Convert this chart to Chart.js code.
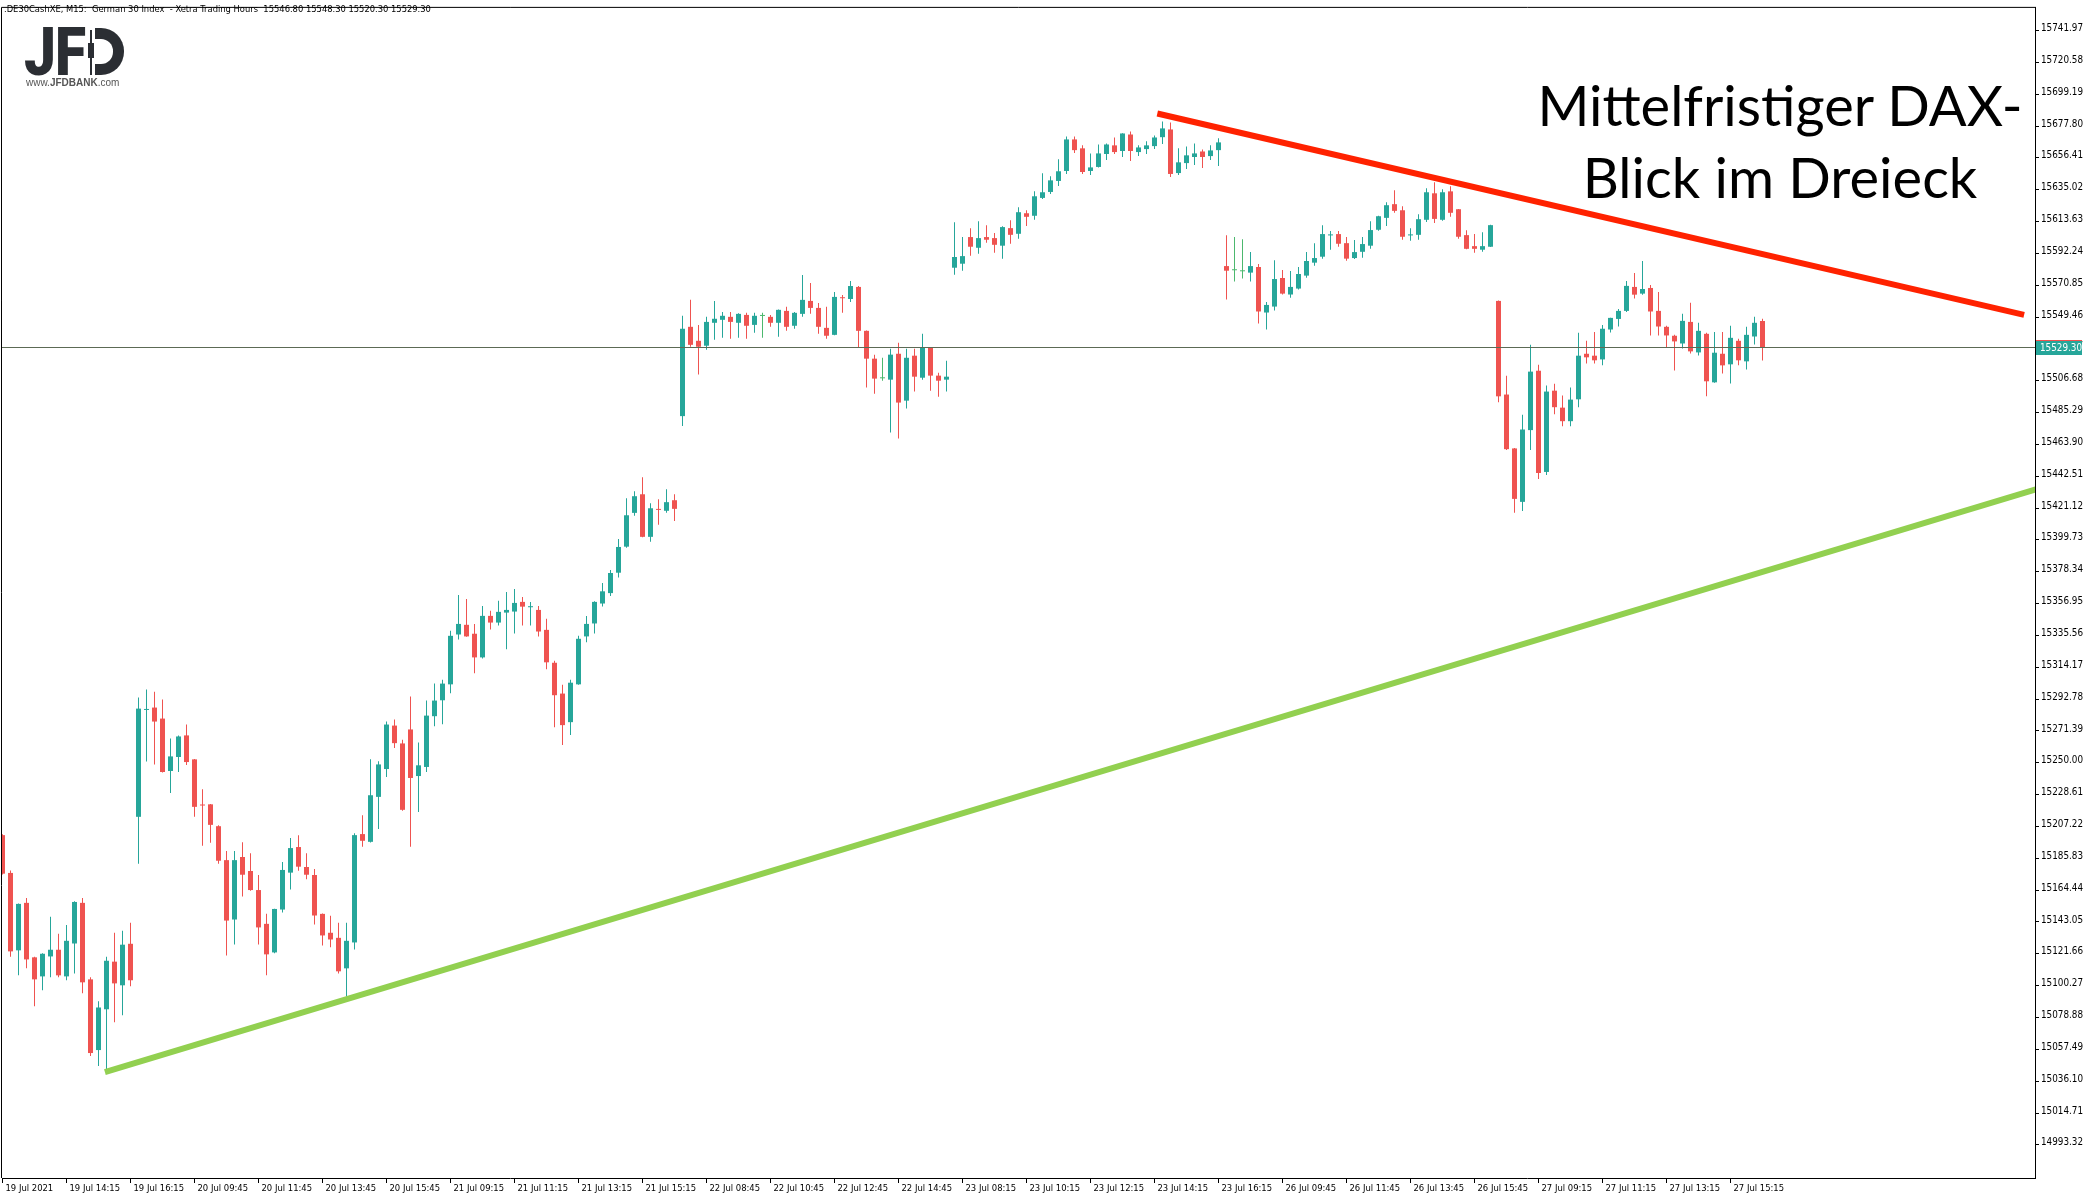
<!DOCTYPE html>
<html>
<head>
<meta charset="utf-8">
<script src="https://cdn.jsdelivr.net/npm/chart.js@4.4.0/dist/chart.umd.min.js"></script>
<style>
  html, body { margin: 0; padding: 0; background: #fff; }
  #wrap { position: relative; width: 2092px; height: 1200px; overflow: hidden; }
  #chart { position: absolute; left: 0; top: 0; }
  .hdr { position: absolute; left: 4px; top: 3px; font: 9.3px/12px "DejaVu Sans Condensed", "DejaVu Sans", sans-serif; color: #000; white-space: pre; }
  .logo { position: absolute; left: 24px; top: 20px; font: 900 66px/66px Roboto, sans-serif; color: #2b2e33; transform: scaleX(0.86); transform-origin: left top; letter-spacing: -1px; }
  .wick { position: absolute; left: 90px; top: 30px; width: 2px; height: 45px; background: #2b2e33; }
  .body { position: absolute; left: 88px; top: 43px; width: 6px; height: 15px; background: #2b2e33; }
  .dshape { position: absolute; left: 95px; top: 28px; width: 29px; height: 47px; box-sizing: border-box; border: 11px solid #2b2e33; border-left: 0; border-radius: 0 23px 23px 0; }
  .site { position: absolute; left: 26px; top: 77px; font: 10px/12px "Liberation Sans", Arial, sans-serif; color: #555; }
  .site b { font-weight: bold; }
  .title { position: absolute; left: 1480px; top: 69px; width: 600px; text-align: center; font: 56px/72px Lato, sans-serif; color: #000; }
</style>
</head>
<body>
<div id="wrap">
  <canvas id="chart" width="2092" height="1200"></canvas>
  <div class="hdr">.DE30CashXE, M15:  German 30 Index  - Xetra Trading Hours  15546.80 15548.30 15520.30 15529.30</div>
  <div class="logo">JF</div>
  <div class="wick"></div>
  <div class="body"></div>
  <div class="dshape"></div>
  <div class="site">www.<b>JFDBANK</b>.com</div>
  <div class="title">Mittelfristiger DAX-<br>Blick im Dreieck</div>
</div>
<script>
// M15 Kerzen, 19.07.2021 12:15 bis 27.07.2021 16:15
const opens = [
  15201.4, 15176.0, 15124.0, 15155.9, 15119.3, 15106.5, 15119.9, 15124.4, 15106.5, 15128.6,
  15155.9, 15104.5, 15057.0, 15084.4, 15116.4, 15100.5, 15128.4, 15213.7, 15285.5, 15287.1,
  15279.7, 15244.5, 15253.9, 15268.4, 15252.3, 15221.9, 15222.1, 15207.4, 15184.6, 15144.7,
  15186.7, 15177.3, 15164.5, 15141.8, 15122.6, 15151.4, 15176.2, 15193.4, 15180.0, 15174.6,
  15148.5, 15135.8, 15132.4, 15111.9, 15129.3, 15202.1, 15196.9, 15227.1, 15245.8, 15275.0,
  15263.0, 15272.4, 15241.1, 15247.2, 15281.3, 15292.0, 15302.7, 15336.2, 15342.7, 15336.7,
  15320.8, 15348.7, 15344.2, 15350.9, 15351.6, 15358.1, 15354.5, 15352.7, 15339.3, 15317.2,
  15296.5, 15277.3, 15302.7, 15334.9, 15343.6, 15357.0, 15364.0, 15377.7, 15395.2, 15417.9,
  15430.4, 15401.8, 15420.4, 15419.3, 15426.4, 15482.9, 15542.9, 15533.5, 15530.2, 15545.6,
  15547.6, 15549.6, 15545.6, 15550.9, 15544.2, 15550.2, 15549.6, 15545.6, 15553.6, 15543.6,
  15551.6, 15560.3, 15555.6, 15542.2, 15537.5, 15562.5, 15561.6, 15569.7, 15540.2, 15521.5,
  15508.3, 15507.4, 15524.8, 15493.3, 15523.5, 15508.7, 15528.8, 15510.1, 15507.4, 15582.6,
  15585.3, 15603.2, 15596.0, 15603.2, 15602.5, 15597.4, 15609.2, 15605.4, 15619.2, 15617.5,
  15629.5, 15633.5, 15640.9, 15647.6, 15668.8, 15662.8, 15647.6, 15650.3, 15659.0, 15664.8,
  15661.0, 15672.1, 15660.3, 15662.3, 15664.3, 15670.3, 15675.5, 15646.2, 15652.9, 15657.0,
  15660.7, 15657.6, 15661.6, 15583.7, 15580.9, 15580.2, 15579.3, 15583.1, 15552.5, 15556.5,
  15575.7, 15564.6, 15568.6, 15577.3, 15586.0, 15590.0, 15604.3, 15605.2, 15599.1, 15589.1,
  15593.3, 15597.4, 15608.1, 15616.1, 15625.3, 15621.2, 15604.3, 15604.7, 15614.8, 15632.6,
  15614.8, 15633.9, 15621.9, 15604.5, 15597.1, 15594.7, 15596.7, 15560.3, 15497.4, 15461.2,
  15425.3, 15473.5, 15513.4, 15445.4, 15500.0, 15488.6, 15479.5, 15494.2, 15524.8, 15523.5,
  15521.0, 15541.1, 15548.2, 15553.6, 15569.7, 15565.2, 15569.0, 15553.6, 15542.9, 15536.9,
  15531.7, 15546.2, 15525.7, 15538.2, 15505.6, 15524.8, 15517.7, 15533.5, 15519.7, 15536.4,
  15546.8
];
const highs = [
  15202.0, 15177.7, 15155.5, 15159.2, 15119.7, 15122.0, 15146.5, 15135.1, 15141.1, 15157.0,
  15159.2, 15105.9, 15089.8, 15119.7, 15135.8, 15137.1, 15142.5, 15293.8, 15299.2, 15297.8,
  15292.5, 15266.3, 15268.4, 15275.7, 15252.5, 15232.2, 15222.3, 15208.1, 15190.7, 15190.7,
  15196.7, 15189.3, 15174.6, 15148.5, 15152.0, 15183.3, 15199.4, 15201.4, 15189.3, 15178.6,
  15148.7, 15147.2, 15142.5, 15142.5, 15202.7, 15214.8, 15252.3, 15251.0, 15277.7, 15279.1,
  15265.4, 15294.5, 15263.7, 15291.8, 15303.2, 15305.8, 15338.7, 15362.8, 15360.1, 15343.3,
  15355.4, 15352.1, 15358.8, 15364.8, 15366.8, 15361.4, 15358.1, 15355.4, 15346.7, 15318.6,
  15302.5, 15305.8, 15335.3, 15348.7, 15358.5, 15370.8, 15379.5, 15400.3, 15427.7, 15432.4,
  15441.8, 15424.4, 15427.1, 15433.8, 15430.4, 15550.3, 15561.0, 15544.2, 15549.6, 15560.3,
  15552.9, 15552.9, 15552.0, 15552.3, 15552.3, 15552.3, 15550.9, 15554.5, 15556.3, 15552.9,
  15577.7, 15572.4, 15558.9, 15556.3, 15566.3, 15564.3, 15573.7, 15570.3, 15540.5, 15524.2,
  15522.1, 15528.2, 15532.2, 15528.2, 15528.2, 15538.2, 15529.0, 15512.1, 15520.1, 15613.2,
  15603.2, 15609.2, 15613.9, 15611.2, 15605.9, 15610.5, 15614.5, 15623.2, 15621.2, 15634.0,
  15646.0, 15644.0, 15655.4, 15670.8, 15670.8, 15664.8, 15659.4, 15665.4, 15666.1, 15670.1,
  15673.0, 15674.1, 15664.8, 15667.5, 15671.5, 15680.8, 15680.2, 15662.8, 15664.1, 15666.1,
  15662.1, 15664.8, 15669.5, 15604.5, 15603.2, 15601.8, 15593.1, 15585.1, 15559.6, 15587.7,
  15581.1, 15580.4, 15583.1, 15593.1, 15599.1, 15611.2, 15607.2, 15607.2, 15603.2, 15601.2,
  15603.2, 15613.9, 15617.5, 15626.6, 15634.6, 15623.9, 15609.2, 15618.6, 15636.0, 15640.0,
  15635.3, 15637.3, 15622.0, 15607.8, 15605.2, 15606.5, 15611.5, 15560.5, 15510.1, 15461.5,
  15483.9, 15530.8, 15517.4, 15503.4, 15504.7, 15496.7, 15502.1, 15538.9, 15533.5, 15539.5,
  15544.2, 15549.0, 15554.9, 15573.7, 15579.0, 15587.1, 15571.0, 15566.3, 15543.6, 15537.5,
  15551.6, 15559.0, 15545.6, 15538.9, 15539.5, 15539.5, 15543.6, 15534.9, 15542.9, 15549.6,
  15548.3
];
const lows = [
  15175.0, 15119.7, 15107.2, 15111.9, 15086.5, 15097.2, 15105.9, 15105.9, 15103.9, 15108.5,
  15095.2, 15053.0, 15046.3, 15042.9, 15075.7, 15080.4, 15099.8, 15182.2, 15250.9, 15248.9,
  15243.5, 15229.7, 15243.8, 15248.5, 15213.7, 15194.3, 15196.3, 15182.2, 15120.6, 15128.0,
  15160.1, 15164.0, 15128.0, 15107.2, 15122.0, 15149.4, 15164.8, 15177.5, 15171.7, 15141.3,
  15127.3, 15126.0, 15108.5, 15093.0, 15124.6, 15193.6, 15196.5, 15205.6, 15240.5, 15259.9,
  15217.7, 15193.6, 15217.0, 15243.8, 15274.6, 15275.9, 15296.7, 15332.9, 15334.7, 15310.1,
  15320.1, 15339.6, 15342.2, 15326.2, 15336.9, 15342.2, 15342.2, 15334.9, 15312.8, 15273.9,
  15261.9, 15268.6, 15302.5, 15330.9, 15336.9, 15355.0, 15362.0, 15374.4, 15394.5, 15415.9,
  15401.6, 15398.5, 15409.9, 15417.9, 15412.5, 15476.2, 15529.5, 15510.8, 15527.5, 15534.2,
  15535.5, 15534.9, 15535.5, 15534.9, 15538.9, 15535.5, 15542.9, 15536.2, 15540.2, 15541.6,
  15549.6, 15551.6, 15538.2, 15534.9, 15537.3, 15552.3, 15559.6, 15528.8, 15502.1, 15498.0,
  15506.7, 15471.9, 15467.9, 15488.0, 15499.4, 15507.4, 15500.0, 15496.0, 15499.4, 15577.9,
  15580.6, 15590.7, 15592.0, 15599.4, 15592.7, 15588.7, 15598.7, 15602.1, 15610.7, 15614.8,
  15628.8, 15632.2, 15637.5, 15645.6, 15659.6, 15645.6, 15644.9, 15650.0, 15654.9, 15659.0,
  15657.0, 15654.3, 15657.6, 15659.0, 15662.3, 15665.7, 15643.6, 15644.9, 15648.9, 15651.6,
  15649.6, 15654.9, 15650.9, 15561.2, 15573.3, 15575.3, 15573.3, 15545.1, 15541.1, 15553.8,
  15564.6, 15562.5, 15567.9, 15575.9, 15584.0, 15588.7, 15594.7, 15596.7, 15587.3, 15588.4,
  15589.3, 15595.3, 15607.4, 15610.7, 15619.5, 15601.4, 15600.7, 15601.4, 15613.4, 15612.7,
  15614.1, 15616.8, 15602.1, 15595.0, 15592.7, 15593.3, 15596.5, 15492.2, 15460.1, 15417.9,
  15419.2, 15460.1, 15440.7, 15443.3, 15484.2, 15476.1, 15476.1, 15488.9, 15518.3, 15518.3,
  15517.0, 15539.1, 15543.1, 15552.9, 15561.9, 15564.5, 15537.1, 15537.1, 15529.1, 15513.6,
  15528.4, 15525.0, 15523.7, 15496.2, 15505.4, 15511.6, 15504.9, 15517.0, 15514.3, 15531.1,
  15520.3
];
const closes = [
  15175.5, 15123.3, 15155.2, 15117.9, 15104.5, 15121.7, 15124.4, 15107.2, 15130.4, 15156.5,
  15102.5, 15055.0, 15085.6, 15117.0, 15101.8, 15127.8, 15103.9, 15286.4, 15285.8, 15277.7,
  15243.8, 15254.3, 15267.7, 15250.5, 15220.4, 15221.3, 15208.3, 15184.2, 15144.0, 15184.6,
  15174.8, 15164.5, 15139.4, 15121.3, 15151.8, 15178.0, 15192.7, 15180.2, 15174.8, 15147.4,
  15134.0, 15131.3, 15109.9, 15130.4, 15201.4, 15197.6, 15228.2, 15248.9, 15275.7, 15263.2,
  15218.4, 15239.8, 15248.3, 15281.7, 15291.8, 15303.2, 15335.3, 15343.3, 15334.9, 15320.8,
  15348.7, 15344.2, 15351.4, 15352.7, 15357.4, 15354.9, 15355.2, 15338.2, 15317.5, 15295.4,
  15275.3, 15303.8, 15333.3, 15343.3, 15358.1, 15365.2, 15377.5, 15395.0, 15416.3, 15429.1,
  15401.8, 15421.0, 15419.9, 15425.1, 15420.6, 15541.6, 15530.8, 15529.5, 15546.2, 15548.3,
  15550.3, 15546.2, 15551.6, 15543.6, 15550.3, 15550.2, 15545.6, 15554.3, 15542.9, 15552.3,
  15561.0, 15555.6, 15542.9, 15536.9, 15563.0, 15562.1, 15570.3, 15540.2, 15521.5, 15508.1,
  15508.3, 15524.2, 15492.0, 15522.1, 15509.4, 15528.8, 15510.1, 15506.7, 15509.4, 15589.8,
  15590.4, 15596.7, 15602.5, 15601.4, 15598.0, 15609.9, 15604.7, 15619.9, 15616.8, 15630.6,
  15633.3, 15641.3, 15647.4, 15668.8, 15661.6, 15646.9, 15650.0, 15659.4, 15665.4, 15660.3,
  15672.8, 15661.0, 15663.4, 15664.8, 15670.1, 15676.2, 15645.6, 15653.4, 15658.1, 15659.4,
  15657.0, 15661.4, 15666.8, 15580.6, 15580.9, 15580.2, 15583.7, 15553.2, 15557.6, 15575.0,
  15565.2, 15569.7, 15578.4, 15587.1, 15589.1, 15605.2, 15605.0, 15598.7, 15588.7, 15593.1,
  15598.5, 15607.9, 15617.2, 15624.6, 15620.8, 15603.4, 15605.0, 15615.2, 15633.3, 15615.4,
  15633.3, 15619.5, 15603.4, 15595.3, 15595.3, 15597.1, 15611.2, 15496.2, 15460.7, 15427.3,
  15473.9, 15512.8, 15444.7, 15499.4, 15488.9, 15479.5, 15494.0, 15523.5, 15522.4, 15520.4,
  15541.6, 15548.9, 15553.6, 15570.4, 15564.5, 15568.3, 15553.2, 15543.1, 15537.1, 15533.1,
  15546.9, 15526.4, 15540.2, 15506.3, 15525.5, 15517.0, 15535.5, 15520.4, 15537.5, 15545.6,
  15529.3
];

// Zeitachse: Beschriftung alle 8 Kerzen
const xTickBars = [0, 8, 16, 24, 32, 40, 48, 56, 64, 72, 80, 88, 96, 104, 112, 120, 128, 136, 144, 152, 160, 168, 176, 184, 192, 200, 208, 216];
const xTickLabels = [
  '19 Jul 2021', '19 Jul 14:15', '19 Jul 16:15', '20 Jul 09:45', '20 Jul 11:45', '20 Jul 13:45', '20 Jul 15:45',
  '21 Jul 09:15', '21 Jul 11:15', '21 Jul 13:15', '21 Jul 15:15', '22 Jul 08:45', '22 Jul 10:45', '22 Jul 12:45',
  '22 Jul 14:45', '23 Jul 08:15', '23 Jul 10:15', '23 Jul 12:15', '23 Jul 14:15', '23 Jul 16:15', '26 Jul 09:45',
  '26 Jul 11:45', '26 Jul 13:45', '26 Jul 15:45', '27 Jul 09:15', '27 Jul 11:15', '27 Jul 13:15', '27 Jul 15:15'
];

// Preisachse
const yTickValues = [
  15741.97, 15720.58, 15699.19, 15677.80, 15656.41, 15635.02, 15613.63, 15592.24, 15570.85, 15549.46,
  15528.07, 15506.68, 15485.29, 15463.90, 15442.51, 15421.12, 15399.73, 15378.34, 15356.95, 15335.56,
  15314.17, 15292.78, 15271.39, 15250.00, 15228.61, 15207.22, 15185.83, 15164.44, 15143.05, 15121.66,
  15100.27, 15078.88, 15057.49, 15036.10, 15014.71, 14993.32
];

// Trendlinien (Kerzenindex, Kurs)
const resistanceLine = [{ x: 144.35, y: 15686.2 }, { x: 252.7, y: 15550.9 }];
const supportLine = [{ x: 12.8, y: 15042.2 }, { x: 254.2, y: 15433.7 }];

const lastPrice = 15529.30;

const UP = '#26a69a';
const DOWN = '#ef5350';
const DOJI = '#4cb86e';
const AXIS_FAMILY = '"DejaVu Sans Condensed", "DejaVu Sans", sans-serif';

function candleColor(i) {
  if (opens[i] === closes[i]) return DOJI;
  return closes[i] > opens[i] ? UP : DOWN;
}

const wickData = lows.map((l, i) => ({ x: i, y: [l, highs[i]] }));
const bodyData = opens.map((o, i) => ({ x: i, y: [o, closes[i]] }));

// Rahmen, Kurslinie und Kursmarke
const overlayPlugin = {
  id: 'overlay',
  afterDatasetsDraw(chart) {
    const { ctx, chartArea: a, scales } = chart;
    const py = Math.round(scales.y.getPixelForValue(lastPrice));
    ctx.save();
    ctx.fillStyle = '#5c6a55';
    ctx.fillRect(a.left, py, a.right - a.left, 1);
    ctx.restore();
  },
  afterDraw(chart) {
    const { ctx, chartArea: a, scales } = chart;
    ctx.save();
    ctx.strokeStyle = '#000';
    ctx.lineWidth = 1;
    ctx.beginPath();
    ctx.moveTo(a.left - 0.5, a.bottom);
    ctx.lineTo(a.left - 0.5, a.top - 0.5);
    ctx.lineTo(a.right + 1, a.top - 0.5);
    ctx.stroke();

    const py = Math.round(scales.y.getPixelForValue(lastPrice));
    ctx.fillStyle = '#26a69a';
    ctx.fillRect(a.right + 1, py - 6, 46, 14);
    ctx.fillStyle = '#ef5350';
    ctx.fillRect(a.right + 1, py - 7, 46, 1);
    ctx.fillStyle = '#fff';
    ctx.font = '9.8px ' + AXIS_FAMILY;
    ctx.textBaseline = 'middle';
    ctx.textAlign = 'left';
    ctx.fillText(lastPrice.toFixed(2), a.right + 5, py + 1);
    ctx.restore();
  }
};

const chart = new Chart(document.getElementById('chart'), {
  type: 'bar',
  data: {
    datasets: [
      {
        type: 'line',
        data: resistanceLine,
        borderColor: '#ff2200',
        borderWidth: 6,
        pointRadius: 0,
        order: 0,
      },
      {
        type: 'line',
        data: supportLine,
        borderColor: '#92d050',
        borderWidth: 6,
        pointRadius: 0,
        order: 0,
      },
      {
        data: bodyData,
        backgroundColor: (c) => candleColor(c.dataIndex),
        grouped: false,
        maxBarThickness: 5,
        minBarLength: 1,
        order: 1,
      },
      {
        data: wickData,
        backgroundColor: (c) => candleColor(c.dataIndex),
        grouped: false,
        maxBarThickness: 1,
        order: 2,
      },
    ],
  },
  options: {
    responsive: false,
    animation: false,
    devicePixelRatio: 1,
    layout: { padding: { left: 2, top: 4, right: 0, bottom: 0 } },
    plugins: { legend: { display: false }, tooltip: { enabled: false } },
    scales: {
      x: {
        type: 'linear',
        offset: false,
        min: -0.0625,
        max: 254.0625,
        afterBuildTicks: (scale) => {
          scale.ticks = xTickBars.map((v) => ({ value: v }));
        },
        afterFit: (scale) => {
          scale.height = 22;
        },
        ticks: {
          autoSkip: false,
          maxRotation: 0,
          align: 'start',
          labelOffset: 3,
          padding: 0,
          color: '#000',
          font: { family: AXIS_FAMILY, size: 9.4 },
          callback: (v, i) => xTickLabels[i],
        },
        grid: { offset: false, drawOnChartArea: false, tickLength: 5, color: '#000' },
        border: { display: true, color: '#000' },
      },
      y: {
        type: 'linear',
        position: 'right',
        beginAtZero: false,
        min: 14971.05,
        max: 15757.17,
        afterBuildTicks: (scale) => {
          scale.ticks = yTickValues.map((v) => ({ value: v }));
        },
        afterFit: (scale) => {
          scale.width = 57;
        },
        ticks: {
          autoSkip: false,
          padding: 2,
          labelOffset: -2,
          color: '#000',
          font: { family: AXIS_FAMILY, size: 9.8 },
          callback: (v) => Number(v).toFixed(2),
        },
        grid: { drawOnChartArea: false, tickLength: 4, color: '#000' },
        border: { display: true, color: '#000' },
      },
    },
  },
  plugins: [overlayPlugin],
});
</script>
</body>
</html>
